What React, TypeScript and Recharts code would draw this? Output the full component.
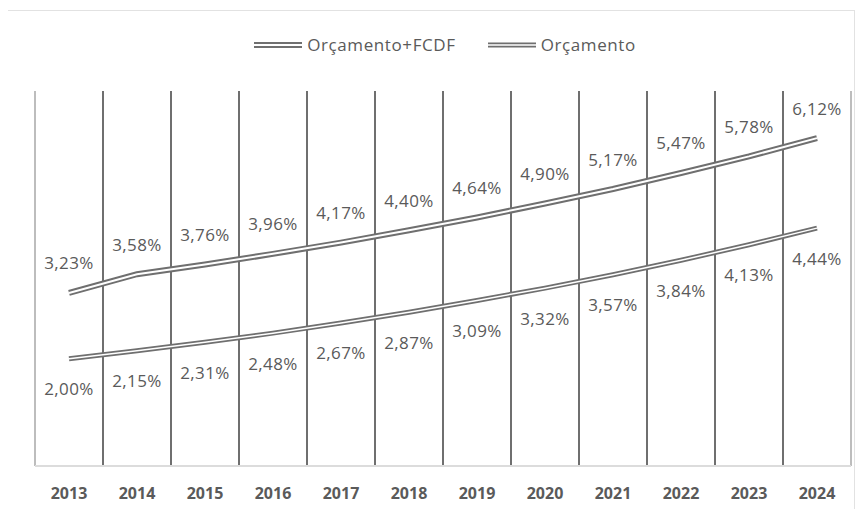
import { LineChart, Line, XAxis, YAxis, ReferenceLine, LabelList } from "recharts";

const years = ["2013", "2014", "2015", "2016", "2017", "2018", "2019", "2020", "2021", "2022", "2023", "2024"];
const orcamentoFcdf = [3.23, 3.58, 3.76, 3.96, 4.17, 4.4, 4.64, 4.9, 5.17, 5.47, 5.78, 6.12];
const orcamento = [2.0, 2.15, 2.31, 2.48, 2.67, 2.87, 3.09, 3.32, 3.57, 3.84, 4.13, 4.44];

const data = years.map((y, i) => ({ idx: i, year: y, fcdf: orcamentoFcdf[i], orc: orcamento[i] }));
const boundaries = years.map((_, i) => i - 0.5).concat([years.length - 0.5]);

const FONT = "'Open Sans', sans-serif";
const GRAY = "#6f6f6f";
const TEXT = "#5a5a5a";

const fmt = (v: number) => v.toFixed(2).replace(".", ",") + "%";

function makeLabel(dy: number) {
  return (props: any) => {
    const { x, y, value } = props;
    return (
      <text
        x={x}
        y={y + dy}
        textAnchor="middle"
        dominantBaseline="central"
        style={{ fontFamily: FONT, fontSize: 17, fill: TEXT, letterSpacing: 0.4 }}
      >
        {fmt(value)}
      </text>
    );
  };
}

function LegendItem({ label, thick, thin }: { label: string; thick: number; thin: number }) {
  return (
    <div style={{ display: "flex", alignItems: "center", gap: 5 }}>
      <svg width={48} height={10}>
        <line x1={0} y1={5} x2={48} y2={5} stroke={GRAY} strokeWidth={thick} />
        <line x1={0} y1={5} x2={48} y2={5} stroke="#fff" strokeWidth={thin} />
      </svg>
      <span style={{ fontFamily: FONT, fontSize: 17, color: TEXT, letterSpacing: 0.6 }}>{label}</span>
    </div>
  );
}

export default function App() {
  return (
    <div style={{ margin: -8, position: "relative", width: 863, height: 517, background: "#fff" }}>
      <div
        style={{
          position: "absolute",
          left: 6,
          top: 10,
          width: 849,
          height: 500,
          border: "1px solid #e2e2e2",
          boxSizing: "border-box",
        }}
      />
      <div
        style={{
          position: "absolute",
          top: 33,
          left: 0,
          width: 863,
          display: "flex",
          justifyContent: "center",
          gap: 32,
          paddingLeft: 27,
          boxSizing: "border-box",
        }}
      >
        <LegendItem label="Orçamento+FCDF" thick={6} thin={2} />
        <LegendItem label="Orçamento" thick={5} thin={1.5} />
      </div>
      <LineChart
        width={863}
        height={517}
        data={data}
        margin={{ top: 91, right: 12, left: 35, bottom: 21 }}
        style={{ position: "absolute", left: 0, top: 0 }}
      >
        <XAxis
          dataKey="idx"
          type="number"
          height={30}
          domain={[-0.5, years.length - 0.5]}
          ticks={years.map((_, i) => i)}
          tickFormatter={(i: number) => years[i]}
          axisLine={{ stroke: "#dcdcdc", strokeWidth: 2 }}
          tickLine={false}
          tickMargin={16}
          tick={{ fontFamily: FONT, fontSize: 16, fontWeight: 700, fill: TEXT }}
        />
        <YAxis hide domain={[0, 7]} />
        {boundaries.map((b, i) => (
          <ReferenceLine
            key={b}
            x={b}
            stroke={i === 0 || i === boundaries.length - 1 ? "#bdbdbd" : GRAY}
            strokeWidth={2}
          />
        ))}
        <Line dataKey="fcdf" stroke={GRAY} strokeWidth={6} dot={false} isAnimationActive={false} />
        <Line dataKey="fcdf" stroke="#fff" strokeWidth={2} dot={false} isAnimationActive={false}>
          <LabelList dataKey="fcdf" content={makeLabel(-30)} />
        </Line>
        <Line dataKey="orc" stroke={GRAY} strokeWidth={5} dot={false} isAnimationActive={false} />
        <Line dataKey="orc" stroke="#fff" strokeWidth={1.5} dot={false} isAnimationActive={false}>
          <LabelList dataKey="orc" content={makeLabel(30)} />
        </Line>
      </LineChart>
    </div>
  );
}
